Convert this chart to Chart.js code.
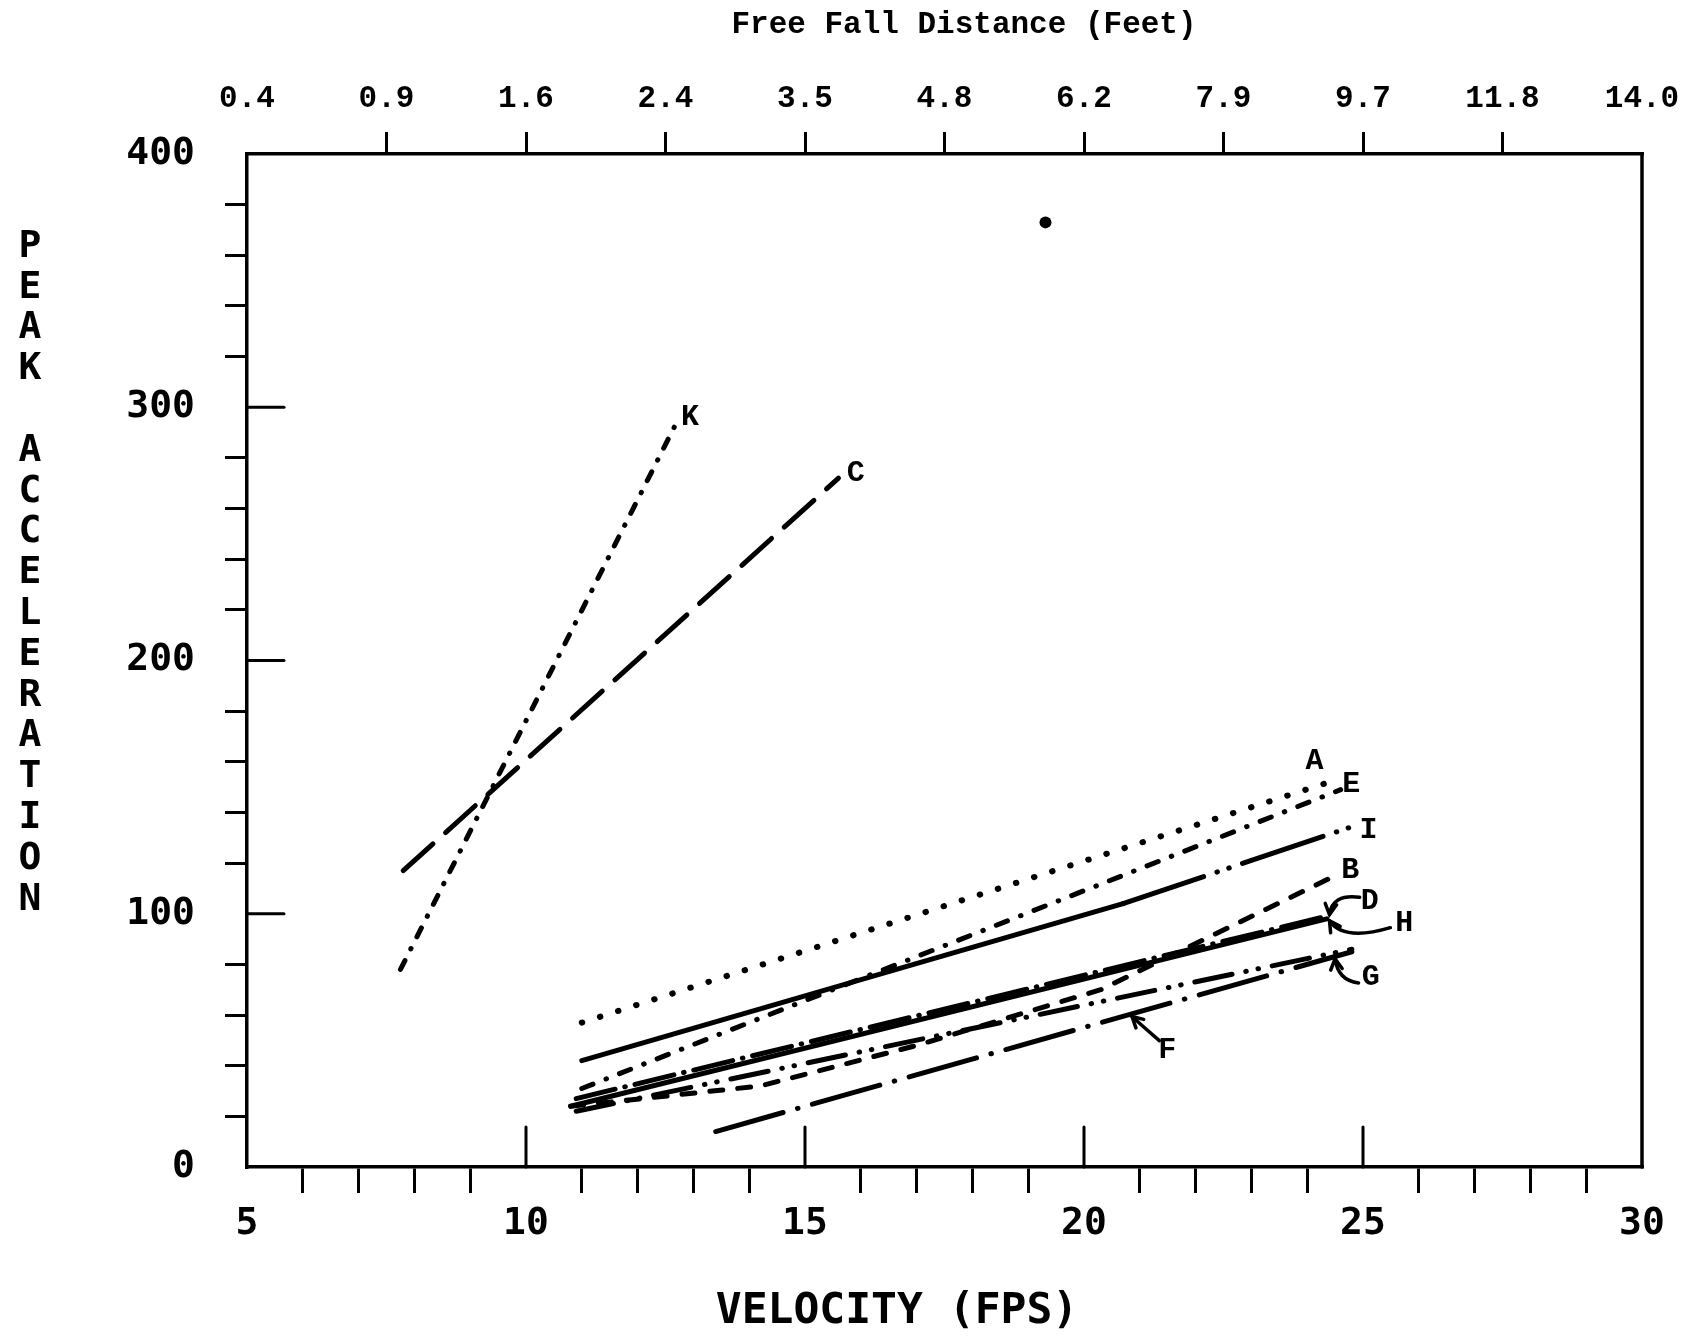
<!DOCTYPE html>
<html>
<head>
<meta charset="utf-8">
<title>Peak Acceleration vs Velocity</title>
<script src="https://cdn.jsdelivr.net/npm/chart.js@4.4.1/dist/chart.umd.min.js"></script>
<style>
    html, body { margin: 0; padding: 0; background: #fff; }
    #wrap { width: 1699px; height: 1344px; }
</style>
</head>
<body>
<div id="wrap"><canvas id="accelChart" width="1699" height="1344"></canvas></div>
<script>
// curves: velocity (fps) and peak acceleration
const velK = [7.75, 12.7];              const accK = [78, 294];
const velC = [7.8, 15.6];               const accC = [117, 272];
const velA = [11.0, 24.4];              const accA = [57, 152];
const velE = [11.0, 24.6];              const accE = [31, 149];
const velI = [11.0, 20.7, 24.75];       const accI = [42, 104, 134];
const velB = [10.8, 14.2, 17.0, 20.3, 24.5]; const accB = [24, 32, 48, 70, 115];
const velD = [10.8, 24.35];             const accD = [24, 98];
const velH = [10.9, 24.35];             const accH = [27, 99];
const velG = [10.9, 24.8];              const accG = [22, 86];
const velF = [13.4, 24.8];              const accF = [14, 85];

// stray blot on the scan
const speckVel = [19.31];
const speckAcc = [373];

// curve letters
const labelText = ["K", "C", "A", "E", "I", "B", "D", "H", "G", "F"];
const labelVel  = [12.94, 15.91, 24.13, 24.79, 25.1, 24.77, 25.12, 25.74, 25.14, 21.49];
const labelAcc  = [296, 274, 160, 151, 133, 117, 105, 96, 75, 46];

// hand drawn pointers (from, bend, to) for D, H, G, F
const pointerFrom = [[24.94, 106.5], [25.49, 94.5], [24.92, 72.7], [21.35, 49.9]];
const pointerVia  = [[24.45, 108.0], [24.65, 89.0], [24.55, 73.6], [21.1, 54.6]];
const pointerTo   = [[24.4, 99.7], [24.4, 97.2], [24.5, 82.2], [20.86, 59.4]];

// axes
const velMin = 5, velMax = 30;
const accMin = 0, accMax = 400;
const distLabels = ["0.4", "0.9", "1.6", "2.4", "3.5", "4.8", "6.2", "7.9", "9.7", "11.8", "14.0"];
const xMajorTicks = [10, 15, 20, 25];
const yMajorTicks = [100, 200, 300];
const xTitle = "VELOCITY (FPS)";
const topTitle = "Free Fall Distance (Feet)";
const yTitle = "PEAK ACCELERATION";

const monoBold = "'DejaVu Sans Mono', monospace";
const narrowMono = "'Liberation Mono', 'DejaVu Sans Mono', monospace";

function curve(vel, acc, dash, width) {
    return {
        data: vel.map((v, i) => ({ x: v, y: acc[i] })),
        showLine: true,
        borderColor: "#000",
        borderWidth: width || 4.5,
        borderDash: dash,
        borderCapStyle: "round",
        borderJoinStyle: "round",
        pointRadius: 0,
        tension: 0,
        fill: false
    };
}

const curveI = curve(velI, accI, [], 5);
curveI.segment = { borderDash: c => c.p0DataIndex === 0 ? [] : [85, 14, 0.5, 12, 0.5, 14] };

const datasets = [
    curve(velK, accK, [10, 13, 0.5, 13], 5),
    curve(velC, accC, [40, 17], 5),
    curve(velA, accA, [0.5, 18.5], 6),
    curve(velE, accE, [12, 14, 0.5, 14], 5),
    curveI,
    curve(velB, accB, [13, 15], 5),
    curve(velD, accD, [], 5),
    curve(velH, accH, [40, 10, 0.5, 10], 5),
    curve(velG, accG, [38, 14, 0.5, 12, 0.5, 14], 5),
    curve(velF, accF, [70, 15, 0.5, 15], 5),
    {
        data: speckVel.map((v, i) => ({ x: v, y: speckAcc[i] })),
        showLine: false,
        pointRadius: 6,
        pointBackgroundColor: "#000",
        pointBorderWidth: 0
    }
];

const decorPlugin = {
    id: "decor",
    afterDatasetsDraw(chart) {
        const ctx = chart.ctx;
        const xs = chart.scales.x;
        const ys = chart.scales.y;
        const area = chart.chartArea;
        ctx.save();
        ctx.strokeStyle = "#000";
        ctx.fillStyle = "#000";
        ctx.lineCap = "round";

        // right edge of the frame
        ctx.lineWidth = 3.5;
        ctx.beginPath();
        ctx.moveTo(area.right, area.top);
        ctx.lineTo(area.right, area.bottom);
        ctx.stroke();

        // long ticks pointing into the plot
        ctx.lineWidth = 3;
        xMajorTicks.forEach(v => {
            const px = xs.getPixelForValue(v);
            ctx.beginPath();
            ctx.moveTo(px, area.bottom);
            ctx.lineTo(px, area.bottom - 40);
            ctx.stroke();
        });
        yMajorTicks.forEach(v => {
            const py = ys.getPixelForValue(v);
            ctx.beginPath();
            ctx.moveTo(area.left, py);
            ctx.lineTo(area.left + 37, py);
            ctx.stroke();
        });

        // curve letters
        ctx.font = "bold 30px " + narrowMono;
        ctx.textAlign = "center";
        ctx.textBaseline = "middle";
        labelText.forEach((t, i) => {
            ctx.fillText(t, xs.getPixelForValue(labelVel[i]), ys.getPixelForValue(labelAcc[i]));
        });

        // pointers
        ctx.lineWidth = 3.5;
        pointerFrom.forEach((f, i) => {
            const x0 = xs.getPixelForValue(f[0]), y0 = ys.getPixelForValue(f[1]);
            const x1 = xs.getPixelForValue(pointerVia[i][0]), y1 = ys.getPixelForValue(pointerVia[i][1]);
            const x2 = xs.getPixelForValue(pointerTo[i][0]), y2 = ys.getPixelForValue(pointerTo[i][1]);
            ctx.beginPath();
            ctx.moveTo(x0, y0);
            ctx.quadraticCurveTo(x1, y1, x2, y2);
            ctx.stroke();
            const ang = Math.atan2(y2 - y1, x2 - x1);
            ctx.beginPath();
            ctx.moveTo(x2 - 12 * Math.cos(ang - 0.5), y2 - 12 * Math.sin(ang - 0.5));
            ctx.lineTo(x2, y2);
            ctx.lineTo(x2 - 12 * Math.cos(ang + 0.5), y2 - 12 * Math.sin(ang + 0.5));
            ctx.stroke();
        });

        // axis titles, placed where the scan has them
        ctx.textAlign = "center";
        ctx.textBaseline = "middle";
        ctx.font = "bold 31px " + narrowMono;
        ctx.fillText(topTitle, 964, 25);
        ctx.font = "bold 43px " + monoBold;
        ctx.fillText(xTitle, 897, 1312);

        // stacked y title
        ctx.font = "bold 38px " + monoBold;
        yTitle.split("").forEach((ch, i) => {
            ctx.fillText(ch, 30, 247 + i * 40.8);
        });
        ctx.restore();
    }
};

new Chart(document.getElementById("accelChart"), {
    type: "scatter",
    data: { datasets },
    options: {
        responsive: false,
        animation: false,
        devicePixelRatio: 1,
        layout: { padding: { left: 0, right: 57, top: 0, bottom: 0 } },
        plugins: { legend: { display: false }, tooltip: { enabled: false } },
        scales: {
            x: {
                type: "linear",
                position: "bottom",
                min: velMin,
                max: velMax,
                afterFit: s => { s.height = 177; },
                border: { display: true, color: "#000", width: 3.5 },
                grid: {
                    drawOnChartArea: false,
                    drawTicks: true,
                    tickLength: 26,
                    lineWidth: 3,
                    color: c => (c.tick && c.tick.value % 5 === 0) ? "rgba(0,0,0,0)" : "#000"
                },
                ticks: {
                    stepSize: 1,
                    autoSkip: false,
                    maxRotation: 0,
                    padding: 8,
                    color: "#000",
                    font: { family: monoBold, size: 38, weight: "bold" },
                    callback: v => v % 5 === 0 ? String(v) : ""
                },
                title: { display: false }
            },
            xTop: {
                type: "linear",
                position: "top",
                min: velMin,
                max: velMax,
                afterFit: s => { s.height = 154; },
                border: { display: true, color: "#000", width: 3.5 },
                grid: {
                    drawOnChartArea: false,
                    drawTicks: true,
                    tickLength: 22,
                    lineWidth: 3,
                    color: c => (c.tick && (c.tick.value === velMin || c.tick.value === velMax)) ? "rgba(0,0,0,0)" : "#000"
                },
                ticks: {
                    stepSize: 2.5,
                    autoSkip: false,
                    maxRotation: 0,
                    padding: 14,
                    color: "#000",
                    font: { family: narrowMono, size: 31, weight: "bold" },
                    callback: v => distLabels[Math.round((v - velMin) / 2.5)]
                },
                title: { display: false }
            },
            y: {
                type: "linear",
                position: "left",
                min: accMin,
                max: accMax,
                afterFit: s => { s.width = 247; },
                border: { display: true, color: "#000", width: 3.5 },
                grid: {
                    drawOnChartArea: false,
                    drawTicks: true,
                    tickLength: 22,
                    lineWidth: 3,
                    color: c => (c.tick && c.tick.value % 100 === 0) ? "rgba(0,0,0,0)" : "#000"
                },
                ticks: {
                    stepSize: 20,
                    autoSkip: false,
                    padding: 30,
                    color: "#000",
                    font: { family: monoBold, size: 38, weight: "bold" },
                    callback: v => v % 100 === 0 ? String(v) : ""
                }
            }
        }
    },
    plugins: [decorPlugin]
});
</script>
</body>
</html>
